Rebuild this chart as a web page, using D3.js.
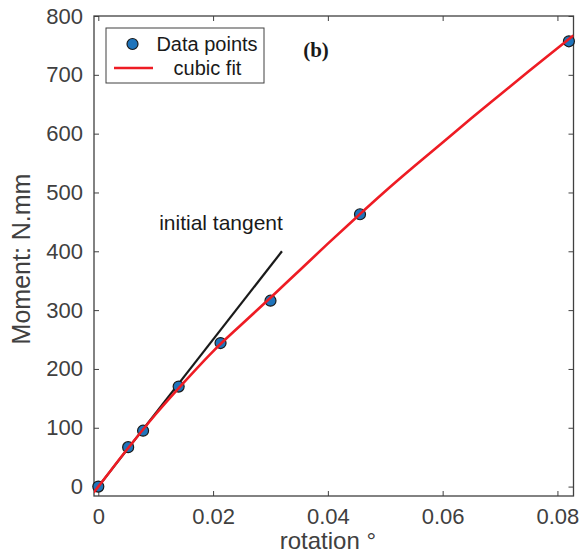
<!DOCTYPE html>
<html>
<head>
<meta charset="utf-8">
<script src="https://cdn.jsdelivr.net/npm/d3@7"></script>
<style>
  body { margin: 0; background: #fff; }
  svg { display: block; font-family: "Liberation Sans", Arial, sans-serif; }
</style>
</head>
<body>
<div id="chart"></div>
<script>
// measured data points
var rotation = [0, 0.0052, 0.0078, 0.0140, 0.0213, 0.0300, 0.0456, 0.0820];
var moment = [0, 67, 95, 170, 244, 316, 463, 757];

// cubic fit curve
var fitX = [-0.0008, 0, 0.005, 0.01, 0.015, 0.02, 0.025, 0.03, 0.035, 0.04, 0.045, 0.05, 0.055, 0.06, 0.065, 0.07, 0.075, 0.08, 0.0828];
var fitY = [-10, 0, 63, 123, 178, 230, 276, 321, 367, 413, 458, 502, 544, 585, 626, 666, 706, 745, 767];

// initial tangent
var tangentX = [0, 0.032];
var tangentY = [0, 400];

var xTicks = [0, 0.02, 0.04, 0.06, 0.08];
var yTicks = [0, 100, 200, 300, 400, 500, 600, 700, 800];

var fullwidth = 579, fullheight = 556;
var margin = {top: 16, right: 5.5, bottom: 60, left: 94},
    width = fullwidth - margin.left - margin.right,
    height = fullheight - margin.top - margin.bottom;

var svg = d3.select("#chart")
  .append("svg")
    .attr("width", fullwidth)
    .attr("height", fullheight)
  .append("g")
    .attr("transform", "translate(" + margin.left + "," + margin.top + ")");

var xScale = d3.scaleLinear().domain([-0.00075, 0.0828]).range([0, width]);
var yScale = d3.scaleLinear().domain([-16, 800]).range([height, 0]);

var axisColor = "#404040";

// axes, ticks inside, box on
function styleAxis(g) {
  g.select(".domain").remove();
  g.selectAll(".tick line").attr("stroke", axisColor);
  g.selectAll(".tick text").attr("fill", axisColor).style("font-size", "22px");
}

svg.append("g")
  .attr("transform", "translate(0," + height + ")")
  .call(d3.axisBottom(xScale).tickValues(xTicks).tickSizeInner(-5).tickSizeOuter(0).tickPadding(12)
    .tickFormat(function(d) { return d === 0 ? "0" : d3.format(".2f")(d); }))
  .call(styleAxis);

svg.append("g")
  .call(d3.axisTop(xScale).tickValues(xTicks).tickSizeInner(-5).tickSizeOuter(0).tickFormat(""))
  .call(styleAxis);

svg.append("g")
  .call(d3.axisLeft(yScale).tickValues(yTicks).tickSizeInner(-5).tickSizeOuter(0).tickPadding(11))
  .call(styleAxis);

svg.append("g")
  .attr("transform", "translate(" + width + ",0)")
  .call(d3.axisRight(yScale).tickValues(yTicks).tickSizeInner(-5).tickSizeOuter(0).tickFormat(""))
  .call(styleAxis);

svg.append("rect")
  .attr("width", width)
  .attr("height", height)
  .attr("fill", "none")
  .attr("stroke", axisColor)
  .attr("stroke-width", 1.3);

// axis labels
svg.append("text")
  .attr("x", xScale(0.04))
  .attr("y", height + 53)
  .attr("text-anchor", "middle")
  .attr("fill", axisColor)
  .style("font-size", "24px")
  .text("rotation \u00B0");

svg.append("text")
  .attr("transform", "translate(-64," + (height / 2 + 3) + ") rotate(-90)")
  .attr("text-anchor", "middle")
  .attr("fill", axisColor)
  .style("font-size", "25px")
  .text("Moment: N.mm");

var plot = svg.append("g");

var tangentLine = d3.line()
  .x(function(d, i) { return xScale(tangentX[i]); })
  .y(function(d, i) { return yScale(tangentY[i]); });

plot.append("path")
  .attr("d", tangentLine(tangentX))
  .attr("fill", "none")
  .attr("stroke", "#1a1a1a")
  .attr("stroke-width", 2.2);

plot.selectAll("circle")
  .data(rotation)
  .enter()
  .append("circle")
    .attr("cx", function(d) { return xScale(d); })
    .attr("cy", function(d, i) { return yScale(moment[i]); })
    .attr("r", 5.5)
    .attr("fill", "#1f74bb")
    .attr("stroke", "#1a1a1a")
    .attr("stroke-width", 1.2);

var fitLine = d3.line()
  .x(function(d, i) { return xScale(fitX[i]); })
  .y(function(d, i) { return yScale(fitY[i]); })
  .curve(d3.curveMonotoneX);

svg.append("clipPath").attr("id", "clip")
  .append("rect").attr("width", width).attr("height", height);

plot.append("path")
  .attr("d", fitLine(fitX))
  .attr("clip-path", "url(#clip)")
  .attr("fill", "none")
  .attr("stroke", "#ee1c24")
  .attr("stroke-width", 2.6);

// annotations
svg.append("text")
  .attr("x", xScale(0.0106))
  .attr("y", yScale(437))
  .attr("fill", "#1a1a1a")
  .style("font-size", "21px")
  .text("initial tangent");

svg.append("text")
  .attr("x", 316 - margin.left)
  .attr("y", 57 - margin.top)
  .attr("text-anchor", "middle")
  .attr("fill", "#1a1a1a")
  .style("font-family", "'Liberation Serif', 'Times New Roman', serif")
  .style("font-weight", "bold")
  .style("font-size", "21px")
  .text("(b)");

// legend
var legend = svg.append("g")
  .attr("transform", "translate(" + (106 - margin.left) + "," + (28 - margin.top) + ")");

legend.append("rect")
  .attr("width", 158)
  .attr("height", 55)
  .attr("fill", "#fff")
  .attr("stroke", "#404040")
  .attr("stroke-width", 1);

legend.append("circle")
  .attr("cx", 26.5).attr("cy", 16)
  .attr("r", 5.5)
  .attr("fill", "#1f74bb")
  .attr("stroke", "#1a1a1a")
  .attr("stroke-width", 1.2);

legend.append("line")
  .attr("x1", 8).attr("x2", 47)
  .attr("y1", 40).attr("y2", 40)
  .attr("stroke", "#ee1c24")
  .attr("stroke-width", 2.6);

legend.append("text")
  .attr("x", 101).attr("y", 23)
  .attr("text-anchor", "middle")
  .attr("fill", "#1a1a1a")
  .style("font-size", "20px")
  .text("Data points");

legend.append("text")
  .attr("x", 101.5).attr("y", 47)
  .attr("text-anchor", "middle")
  .attr("fill", "#1a1a1a")
  .style("font-size", "20px")
  .text("cubic fit");
</script>
</body>
</html>
